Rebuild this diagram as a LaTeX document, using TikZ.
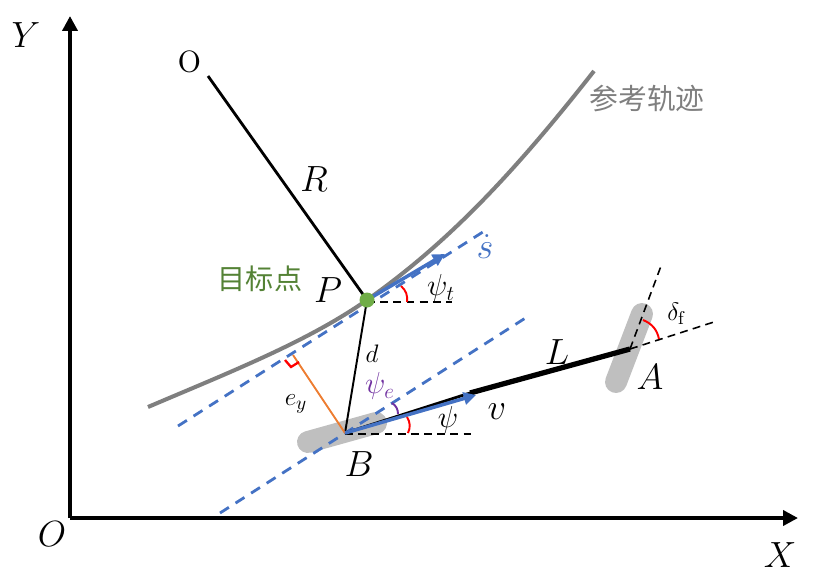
\documentclass[tikz,border=0pt]{standalone}
\usepackage{fontspec}
\newfontfamily\cjk{Noto Sans CJK SC}
\usetikzlibrary{arrows.meta}
\definecolor{trackgray}{RGB}{127,127,127}
\definecolor{wheelgray}{RGB}{191,191,191}
\definecolor{lineblue}{RGB}{68,114,196}
\definecolor{pointgreen}{RGB}{84,130,53}
\definecolor{dotgreen}{RGB}{112,173,71}
\definecolor{errorange}{RGB}{237,125,49}
\definecolor{anglepurple}{RGB}{112,48,160}
\tikzset{
	axisline/.style={line width=2.8pt, -{Triangle[length=8.5pt,width=8.5pt]}},
	wheel/.style={line width=12.5pt, wheelgray, line cap=round},
	helpline/.style={line width=0.9pt, dash pattern=on 4.5pt off 3pt},
	bluedash/.style={line width=1.6pt, lineblue, dash pattern=on 6pt off 4.5pt},
	bluearrow/.style={line width=2pt, lineblue, -{Triangle[length=7pt,width=7pt]}},
	anglearc/.style={line width=1.1pt, red},
	mathlabel/.style={inner sep=0pt, font=\fontsize{20}{20}\selectfont},
	midlabel/.style={inner sep=0pt, font=\fontsize{18}{18}\selectfont},
	smalllabel/.style={inner sep=0pt, font=\fontsize{15}{15}\selectfont}
}
\begin{document}
\begin{tikzpicture}[x=0.02cm, y=-0.02cm]
	\useasboundingbox (0,0) rectangle (814,582);

	% the points of the vehicle and the track
	\coordinate (origin) at (70,518);
	\coordinate (yend) at (70,16);
	\coordinate (xend) at (798,518);
	\coordinate (pointP) at (367,300);
	\coordinate (pointB) at (345,433);
	\coordinate (pointA) at (630,349);
	\coordinate (circle0) at (208,76);

	% the wheels
	\draw[wheel] (308,442) -- (376,423);
	\draw[wheel] (642,314) -- (616,382);

	% the axes
	\draw[axisline] (origin) -- (yend);
	\draw[axisline] (origin) -- (xend);

	% the track
	\draw[line width=2.3pt, trackgray] (148,407) .. controls (230,372) and (307,342) .. (pointP)
		.. controls (445,245) and (510,178) .. (594,71);

	% the dashed lines
	\coordinate (tanstart) at (178,426);
	\coordinate (tanend) at (486,230);
	\coordinate (parstart) at (220,513);
	\coordinate (parend) at (527,317);
	\draw[bluedash] (tanstart) -- (tanend);
	\draw[bluedash] (parstart) -- (parend);

	\coordinate (hlineP) at (452,302);
	\coordinate (hlineB) at (471,434);
	\coordinate (steerend) at (661,266);
	\coordinate (bodyend) at (717,321);
	\draw[helpline] (pointP |- hlineP) -- (hlineP);
	\draw[helpline] (pointB |- hlineB) -- (hlineB);
	\draw[helpline] (pointA) -- (steerend);
	\draw[helpline] (pointA) -- (bodyend);

	% the radius, the distance and the body
	\coordinate (bodymid) at (470,393);
	\draw[line width=1.6pt] (circle0) -- (pointP);
	\draw[line width=1.1pt] (pointP) -- (pointB);
	\draw[line width=1.6pt] (pointB) -- (bodymid);
	\draw[line width=3pt] (bodymid) -- (pointA);

	% the lateral error
	\coordinate (footP) at (293,355);
	\draw[line width=1.1pt, errorange] (pointB) -- (footP);
	\draw[line width=1.3pt, red] (285,360) -- (291,367) -- (299,362);

	% the velocity arrows
	\coordinate (headt) at (445,254);
	\coordinate (headv) at (476,395);
	\draw[bluearrow] (pointP) -- (headt);
	\draw[bluearrow] (pointB) -- (headv);

	% the angles
	\draw[anglearc] (401,286) to[bend left=28] (407,302);
	\draw[anglearc] (407,417) to[bend left=28] (408,433);
	\draw[anglearc] (643,320) to[bend left=28] (659,339);
	\draw[line width=1.1pt, anglepurple] (392,403) to[bend left=28] (398,414);

	% the target point
	\fill[dotgreen] (pointP) circle (7.5);

	% the texts
	\node[mathlabel] (labelY) at (26,35) {$Y$};
	\node[mathlabel] (labelX) at (780,555) {$X$};
	\node[mathlabel] (labelO) at (52,534) {$O$};
	\node[inner sep=0pt, font=\fontsize{28}{28}\selectfont] (labelo) at (190,62) {o};
	\node[mathlabel] (labelR) at (314,179) {$R$};
	\node[mathlabel] (labelP) at (328,290) {$P$};
	\node[mathlabel] (labelB) at (359,464) {$B$};
	\node[mathlabel] (labelA) at (650,377) {$A$};
	\node[mathlabel] (labelL) at (557,352) {$L$};
	\node[mathlabel] (labelv) at (497,412) {$v$};
	\node[mathlabel, lineblue] (labels) at (485,247) {$\dot{s}$};
	\node[smalllabel] (labeld) at (372,354) {$d$};
	\node[midlabel] (labelpsit) at (441,288) {$\psi_t$};
	\node[midlabel] (labelpsi) at (448,420) {$\psi$};
	\node[midlabel, anglepurple] (labelpsie) at (380,386) {$\psi_e$};
	\node[smalllabel] (labelerr) at (296,404) {$e_y$};
	\node[smalllabel] (labeldelta) at (676,314) {$\delta_{\mathrm{f}}$};
	\node[inner sep=0pt, trackgray, font=\cjk\fontsize{16.4}{16}\selectfont] (labeltrack) at (647,99) {参考轨迹};
	\node[inner sep=0pt, pointgreen, font=\cjk\fontsize{16}{16}\selectfont] (labeltarget) at (260,279) {目标点};
\end{tikzpicture}
\end{document}
